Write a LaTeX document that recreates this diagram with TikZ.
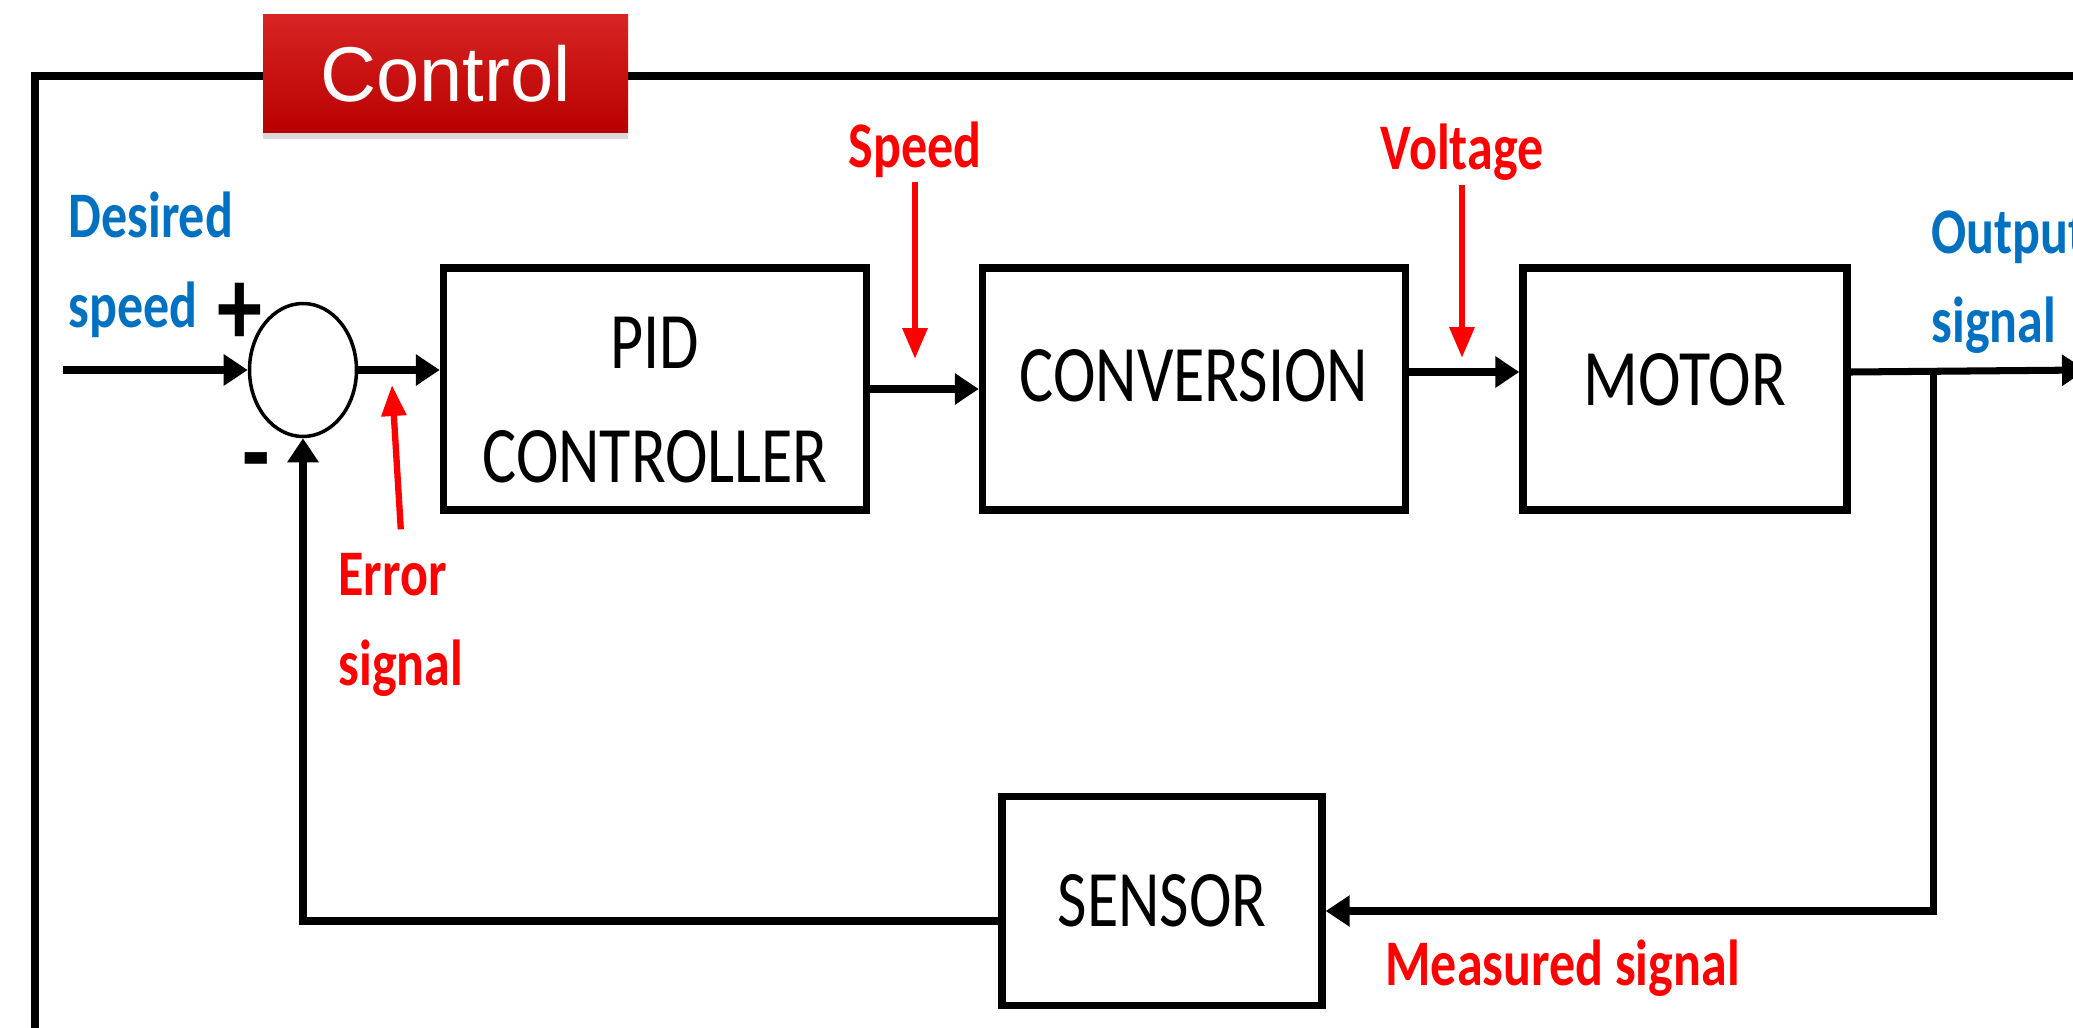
\documentclass[tikz,border=0pt]{standalone}
\usepackage{fontspec}
\setmainfont{Carlito}[FakeStretch=0.8]
\newfontfamily\ctrlfont{Liberation Sans}
\usetikzlibrary{arrows.meta, positioning, shapes.geometric, shadows}
\definecolor{cblue}{HTML}{0070C0}
\definecolor{cred}{HTML}{FF0000}
\definecolor{cdark}{HTML}{B80000}
\definecolor{clight}{HTML}{D82424}
\newcommand{\lift}[2]{\raisebox{#1}[\height][\depth]{#2}}
\tikzset{
  every picture/.style={line width=2pt},
  block/.style={draw, rectangle, line width=2.1pt, minimum width=#1, minimum height=2.42cm, align=center, inner sep=0pt, font=\fontsize{22.8}{32.5}\selectfont},
  block/.default=3.25cm,
  sumpt/.style={draw, ellipse, line width=1pt, minimum width=1.07cm, minimum height=1.33cm, inner sep=0pt},
  sign/.style={font=\fontsize{32}{32}\selectfont\bfseries, inner sep=0pt},
  ctrl/.style={top color=clight, bottom color=cdark, draw=none, minimum width=3.65cm, minimum height=1.18cm, text=white, font=\ctrlfont\fontsize{22.1}{26}\selectfont, drop shadow={opacity=0.3, shadow xshift=0pt, shadow yshift=-0.06cm}},
  tag/.style={text=#1, font=\fontsize{18.5}{25.6}\selectfont\bfseries, inner sep=0pt, align=left},
  tag/.default=cred,
  arrow/.style={-{Triangle[length=0.24cm, width=0.3cm]}, line width=2pt},
  hint/.style={-{Triangle[length=0.31cm, width=0.24cm]}, draw=cred, line width=1.8pt},
}

\begin{document}
\begin{tikzpicture}
  \useasboundingbox (0,0) rectangle (20.73,-10.28);
  % frame with its title
  \draw[line width=2.3pt] (0.35,-0.76) rectangle (21.4,-10.9);
  \node[ctrl] (title) at (4.455,-0.74) {Control};
  % blocks
  \node[sumpt] (sum) at (3.03,-3.70) {};
  \node[sign, anchor=center] (plus) at (2.40,-3.14) {+};
  \node[sign, anchor=center] (minus) at (2.56,-4.72) {-};
  \node[block=4.23cm] (pid) at (6.55,-3.89) {\lift{-1.1mm}{PID}\\\lift{-1.1mm}{CONTROLLER}};
  \node[block=4.23cm] (conv) at (11.94,-3.89) {\lift{1.3mm}{CONVERSION}};
  \node[block=3.24cm] (motor) at (16.85,-3.89) {\lift{0.9mm}{MOTOR}};
  \node[block=3.20cm, minimum height=2.09cm] (sensor) at (11.62,-9.01) {SENSOR};
  % signal names (base = last line)
  \node[tag=cblue, anchor=base west] (want) at (0.65,-3.27) {Desired\\speed};
  \node[tag=cblue, anchor=base west] (outlbl) at (19.28,-3.43) {Output\\signal};
  \node[tag, anchor=base] (spd) at (9.15,-1.68) {Speed};
  \node[tag, anchor=base] (volt) at (14.62,-1.70) {Voltage};
  \node[tag, anchor=base west] (err) at (3.35,-6.85) {Error\\signal};
  \node[tag, anchor=base west] (meas) at (13.82,-9.85) {Measured signal};
  % free ends
  \coordinate (src) at (0.63,-3.70);
  \coordinate (outtip) at (20.86,-3.70);
  \coordinate (tap) at (19.33,-3.72);
  \coordinate (spdtip) at (9.15,-3.59);
  \coordinate (volttip) at (14.62,-3.58);
  \coordinate (errtip) at (3.92,-3.85);
  % forward path
  \draw[arrow] (src) -- (sum.west);
  \draw[arrow] (sum.east) -- (sum.east -| pid.west);
  \draw[arrow] (pid.east) -- (conv.west);
  \draw[arrow] ([yshift=0.17cm]conv.east) -- ([yshift=0.17cm]motor.west);
  \draw[arrow] ([yshift=0.17cm]motor.east) -- (outtip);
  % feedback path
  \draw[arrow] (tap) |- ([yshift=-0.1cm]sensor.east);
  \draw[arrow] ([yshift=-0.2cm]sensor.west) -| (sum.south);
  % red markers
  \draw[hint] (spd.south) -- (spdtip);
  \draw[hint] (volt.south) -- (volttip);
  \draw[hint] ([yshift=2mm]err.north) -- (errtip);
\end{tikzpicture}
\end{document}
